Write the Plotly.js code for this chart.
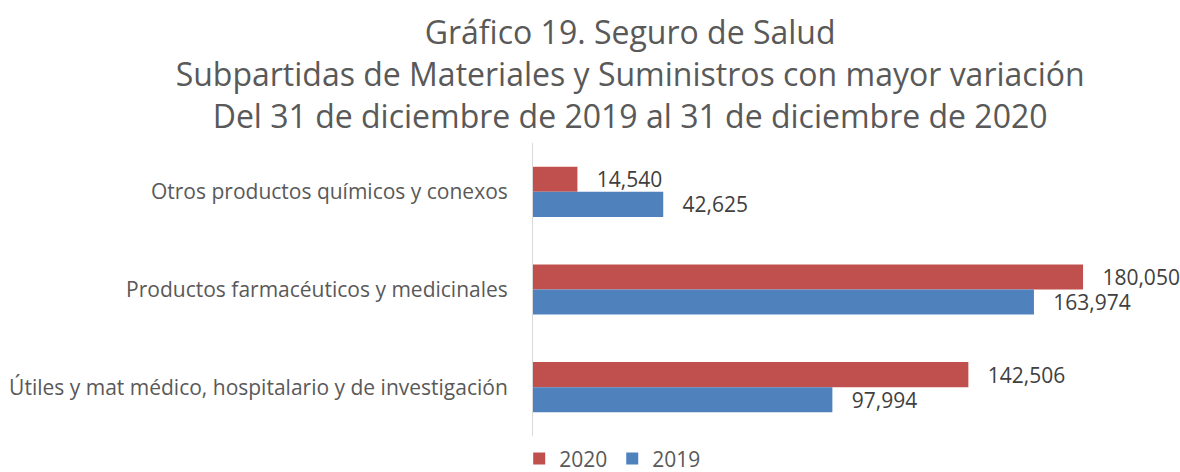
<!DOCTYPE html>
<html>
<head>
<meta charset="utf-8">
<script src="https://cdn.plot.ly/plotly-3.0.1.min.js"></script>
<style>html,body{margin:0;padding:0;background:#fff;}#chart{width:1180px;height:472px;}</style>
</head>
<body>
<div id="chart"></div>
<script>
const categories = [
  "Otros productos químicos y conexos",
  "Productos farmacéuticos y medicinales",
  "Útiles y mat médico, hospitalario y de investigación"
];
const values2020 = [14540, 180050, 142506];
const values2019 = [42625, 163974, 97994];
const seriesNames = ["2020", "2019"];

const FONT = "'Open Sans', 'Noto Sans', sans-serif";
const pad = "\u00a0\u00a0\u00a0";

function makeTrace(name, vals, color) {
  return {
    type: "bar", orientation: "h", name: name,
    y: categories, x: vals,
    marker: {color: color},
    text: vals.map(v => pad + v.toLocaleString("en-US")),
    textposition: "outside", cliponaxis: false, constraintext: "none",
    textfont: {family: FONT, size: 21, color: "#404040"},
    hoverinfo: "x+y"
  };
}

const traces = [
  makeTrace(seriesNames[0], values2020, "#C0504D"),
  makeTrace(seriesNames[1], values2019, "#4F81BD")
];

const layout = {
  width: 1180, height: 472,
  paper_bgcolor: "#ffffff", plot_bgcolor: "#ffffff",
  font: {family: FONT, color: "#595959"},
  margin: {l: 533, r: 36, t: 143, b: 36, autoexpand: false},
  title: {
    text: "Gráfico 19. Seguro de Salud<br>Subpartidas de Materiales y Suministros con mayor variación<br>Del 31 de diciembre de 2019 al 31 de diciembre de 2020",
    font: {family: FONT, size: 32, color: "#595959"},
    x: 0.534, xref: "container", xanchor: "center",
    y: 0.906, yref: "container", yanchor: "middle"
  },
  barmode: "group", bargap: 0.487, bargroupgap: 0,
  xaxis: {range: [0, 200000], visible: false, showgrid: false, zeroline: false, fixedrange: true},
  yaxis: {
    autorange: "reversed", showline: true, linecolor: "#d9d9d9", linewidth: 1,
    ticks: "", showgrid: false, zeroline: false, ticklabelstandoff: 20,
    tickfont: {family: FONT, size: 21, color: "#595959"}
  },
  showlegend: true,
  legend: {
    orientation: "h", x: 0.44, xref: "container", xanchor: "left",
    y: 0.028, yref: "container", yanchor: "middle",
    font: {family: FONT, size: 21, color: "#595959"},
    itemwidth: 30, traceorder: "normal"
  }
};

Plotly.newPlot("chart", traces, layout, {displayModeBar: false, staticPlot: true});
</script>
</body>
</html>
